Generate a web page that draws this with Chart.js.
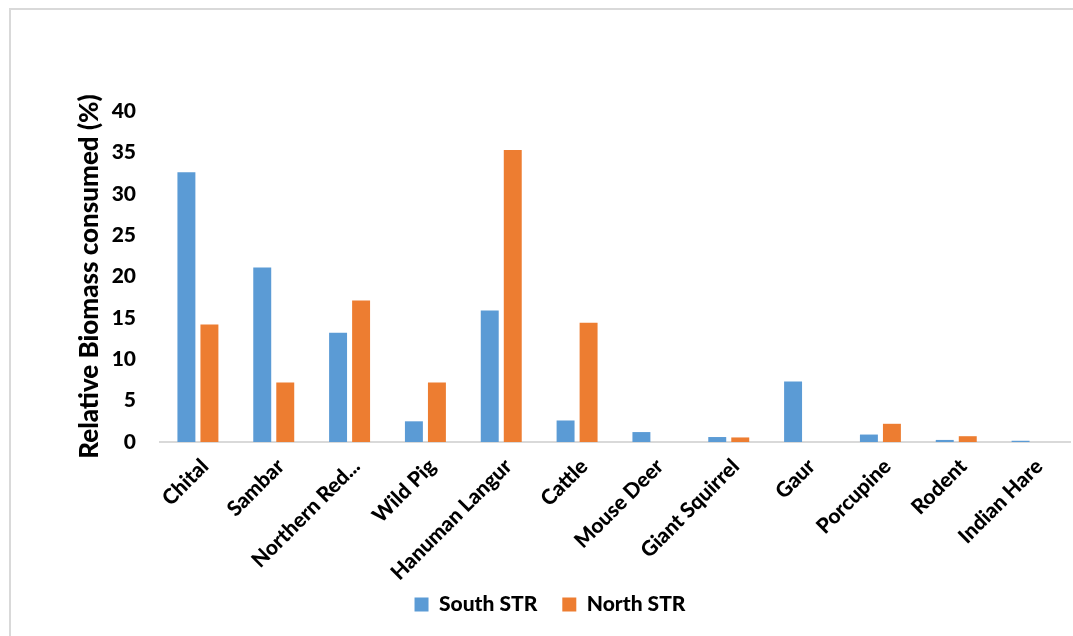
<!DOCTYPE html>
<html>
<head>
<meta charset="utf-8">
<script src="https://cdn.jsdelivr.net/npm/chart.js@4/dist/chart.umd.min.js"></script>
<style>
  html, body { margin: 0; padding: 0; background: #fff; }
  #wrap { position: relative; width: 1073px; height: 636px; }
  #frame { position: absolute; left: 9px; top: 8px; right: 0; bottom: 0;
           border-left: 2px solid #d9d9d9; border-top: 2px solid #d9d9d9; }
  canvas { position: absolute; left: 0; top: 0; }
</style>
</head>
<body>
<div id="wrap">
  <div id="frame"></div>
  <canvas id="c" width="1073" height="636"></canvas>
</div>
<script>
const categories = ['Chital', 'Sambar', 'Northern Red...', 'Wild Pig', 'Hanuman Langur', 'Cattle',
                    'Mouse Deer', 'Giant Squirrel', 'Gaur', 'Porcupine', 'Rodent', 'Indian Hare'];
const southSTR = [32.6, 21.1, 13.2, 2.5, 15.9, 2.6, 1.2, 0.6, 7.3, 0.9, 0.25, 0.15];
const northSTR = [14.2, 7.2, 17.1, 7.2, 35.3, 14.4, 0, 0.55, 0, 2.2, 0.7, 0];
const yTicks = [0, 5, 10, 15, 20, 25, 30, 35, 40];

const FONT = 'Lato, "Open Sans", sans-serif';
const W = '900';

// Let the slanted category labels run past the axis box instead of being clipped by it.
const unclipCategoryLabels = {
  id: 'unclipCategoryLabels',
  afterLayout(chart) { chart.scales.x.bottom += 60; }
};

new Chart(document.getElementById('c'), {
  type: 'bar',
  data: {
    labels: categories,
    datasets: [
      { label: 'South STR', data: southSTR, backgroundColor: '#5B9BD5',
        categoryPercentage: 0.607, barPercentage: 0.78 },
      { label: 'North STR', data: northSTR, backgroundColor: '#ED7D31',
        categoryPercentage: 0.607, barPercentage: 0.78 }
    ]
  },
  plugins: [unclipCategoryLabels],
  options: {
    responsive: false,
    animation: false,
    layout: { padding: { top: 111, left: 30, right: 3, bottom: 11 } },
    plugins: {
      legend: {
        position: 'bottom',
        labels: {
          boxWidth: 14, boxHeight: 14, padding: 25,
          color: '#000',
          font: { family: FONT, size: 21, weight: W }
        }
      },
      tooltip: { enabled: false }
    },
    scales: {
      x: {
        grid: { display: false },
        border: { display: true, color: '#d9d9d9', width: 2 },
        ticks: {
          color: '#000', minRotation: 45, maxRotation: 45, autoSkip: false,
          padding: 4, labelOffset: 7,
          font: { family: FONT, size: 21, weight: W }
        },
        afterFit: (s) => { s.height = 127; }
      },
      y: {
        min: 0, max: 40,
        afterBuildTicks: (s) => { s.ticks = yTicks.map(v => ({ value: v })); },
        grid: { display: false, drawTicks: false },
        border: { display: false },
        ticks: {
          color: '#000', padding: 24,
          font: { family: FONT, size: 21, weight: W }
        },
        title: {
          display: true, text: 'Relative Biomass consumed (%)', color: '#000',
          font: { family: FONT, size: 26, weight: W }, padding: { top: 44, bottom: 0 }
        },
        afterFit: (s) => { s.width = 130; }
      }
    }
  }
});
</script>
</body>
</html>
